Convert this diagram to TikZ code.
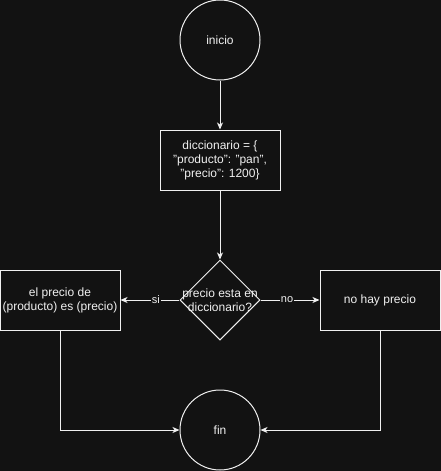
\documentclass[tikz,border=0pt]{standalone}
\usepackage{fontspec}
\setmainfont{Liberation Sans}
\usetikzlibrary{shapes.geometric,arrows.meta}
\definecolor{bg}{HTML}{121212}
\definecolor{fg}{HTML}{F0F0F0}
\newcommand{\dq}{\symbol{34}}
\begin{document}
\begin{tikzpicture}[x=1pt,y=-1pt,
  every node/.style={font=\fontsize{12}{14}\selectfont, text=fg},
  base/.style={draw=fg, line width=1pt, inner sep=0pt, align=center},
  term/.style={base, circle, minimum size=80pt},
  proc/.style={base, rectangle, minimum width=120pt, minimum height=60pt},
  dec/.style={base, diamond, minimum width=80pt, minimum height=80pt, aspect=1},
  conn/.style={draw=fg, line width=1pt, -{Stealth[length=7pt,width=6pt,inset=2pt]}},
  elabel/.style={fill=bg, inner sep=1pt, font=\fontsize{11}{13}\selectfont}]
\fill[bg] (0,0) rectangle (441,471);
\useasboundingbox (0,0) rectangle (441,471);
\node[term] (inicio) at (220,40) {inicio};
\node[proc] (dict) at (220,160) {diccionario = \{\\\dq producto\dq: \dq pan\dq,\\\dq precio\dq: 1200\}};
\node[dec] (cond) at (220,300) {};
\node[align=center] at (220,300) {precio esta en\\diccionario?};
\node[proc] (yes) at (60,300) {el precio de\\(producto) es (precio)};
\node[proc] (nope) at (380,300) {no hay precio};
\node[term] (fin) at (220,430) {fin};
\draw[conn] (inicio) -- (dict);
\draw[conn] (dict) -- (cond);
\draw[conn] (cond) -- node[elabel, pos=0.4] {si} (yes);
\draw[conn] (cond) -- node[elabel, pos=0.45] {no} (nope);
\draw[conn] (yes.south) |- (fin.west);
\draw[conn] (nope.south) |- (fin.east);
\end{tikzpicture}
\end{document}
